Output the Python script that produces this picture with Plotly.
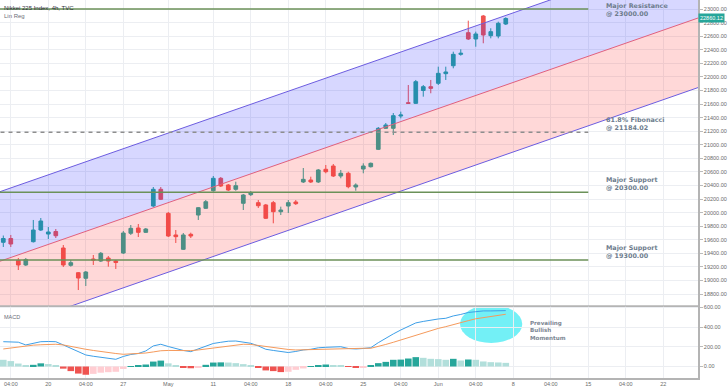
import plotly.graph_objects as go

# ---------------- data ----------------
trading_days = [
    "2020-04-15", "2020-04-16", "2020-04-17",
    "2020-04-20", "2020-04-21", "2020-04-22", "2020-04-23", "2020-04-24",
    "2020-04-27", "2020-04-28", "2020-04-30", "2020-05-01",
    "2020-05-07", "2020-05-08",
    "2020-05-11", "2020-05-12", "2020-05-13", "2020-05-14", "2020-05-15",
    "2020-05-18", "2020-05-19", "2020-05-20", "2020-05-21", "2020-05-22",
    "2020-05-25", "2020-05-26", "2020-05-27", "2020-05-28", "2020-05-29",
    "2020-06-01", "2020-06-02", "2020-06-03", "2020-06-04", "2020-06-05",
]
future_days = [
    "2020-06-08", "2020-06-09", "2020-06-10", "2020-06-11", "2020-06-12",
    "2020-06-15", "2020-06-16", "2020-06-17", "2020-06-18", "2020-06-19",
    "2020-06-22", "2020-06-23", "2020-06-24", "2020-06-25", "2020-06-26",
]
sessions = ["00:00", "04:00"]

open_ = [19562, 19618, 19297, 19228, 19571, 19743, 19684, 19721, 19478, 19223,
         19114, 19032, 19316, 19286, 19331, 19286, 19404, 19695, 19773, 19709,
         20097, 20343, 19989, 19670, 19459, 19680, 19964, 20063, 20322, 20505,
         20406, 20343, 20137, 20264, 20146, 20112, 20146, 20013, 20097, 20156,
         20451, 20480, 20451, 20638, 20686, 20539, 20579, 20377, 20642, 20676,
         20932, 21242, 21242, 21423, 21619, 21610, 21799, 21855, 21905, 22047,
         22164, 22332, 22651, 22558, 22897, 22607, 22602, 22779]
high = [19662, 19670, 19331, 19331, 19891, 19920, 19788, 19758, 19522, 19301,
        19124, 19139, 19375, 19419, 19360, 19301, 19729, 19817, 19832, 19773,
        20377, 20377, 20009, 19743, 19699, 19704, 20082, 20185, 20539, 20524,
        20421, 20455, 20274, 20318, 20185, 20127, 20171, 20087, 20185, 20185,
        20657, 20529, 20642, 20701, 20716, 20628, 20602, 20431, 20726, 20738,
        21261, 21320, 21467, 21487, 21880, 21954, 21880, 21954, 22150, 22150,
        22371, 22406, 22828, 22666, 22912, 22716, 22813, 22878]
low = [19493, 19493, 19154, 19213, 19559, 19729, 19611, 19625, 19198, 19203,
       18859, 18918, 19228, 19272, 19203, 19169, 19390, 19670, 19640, 19699,
       20082, 20185, 19640, 19552, 19449, 19625, 19891, 20053, 20308, 20377,
       20318, 20322, 20038, 20244, 20068, 19905, 19842, 19964, 19994, 20112,
       20436, 20436, 20436, 20579, 20524, 20505, 20358, 20322, 20579, 20664,
       20922, 21232, 21143, 21389, 21607, 21600, 21708, 21758, 21880, 21954,
       22126, 22312, 22543, 22444, 22495, 22568, 22568, 22764]
close = [19618, 19537, 19228, 19309, 19743, 19876, 19714, 19659, 19228, 19262,
         19036, 19124, 19301, 19400, 19286, 19264, 19699, 19768, 19709, 19758,
         20343, 20196, 19655, 19645, 19670, 19655, 20072, 20160, 20505, 20392,
         20333, 20396, 20259, 20293, 20101, 19916, 20013, 20038, 20146, 20131,
         20490, 20451, 20628, 20602, 20539, 20579, 20381, 20406, 20686, 20726,
         21242, 21291, 21428, 21438, 21610, 21929, 21855, 21831, 22052, 22072,
         22332, 22347, 22558, 22632, 22617, 22666, 22789, 22860.12]

macd_line = [252, 252, 247, 219, 234, 252, 254, 252, 219, 185,
             148, 117, 104, 94, 81, 73, 102, 122, 132, 158,
             209, 226, 203, 183, 163, 151, 178, 203, 234, 246,
             257, 259, 244, 236, 209, 175, 163, 151, 142, 153,
             168, 175, 190, 195, 198, 201, 183, 178, 183, 191,
             242, 290, 331, 371, 407, 443, 458, 473, 483, 490,
             514, 529, 549, 557, 565, 565, 567, 568]
signal_line = [178, 188, 200, 209, 217, 221, 224, 226, 219, 202,
               188, 175, 163, 151, 140, 132, 124, 127, 132, 137,
               148, 160, 163, 162, 161, 161, 168, 178, 191, 200,
               211, 219, 226, 224, 214, 200, 191, 180, 173, 168,
               170, 173, 175, 178, 182, 185, 185, 185, 185, 185,
               201, 224, 246, 270, 297, 320, 346, 369, 387, 405,
               427, 448, 466, 485, 498, 512, 522, 531]
histogram = [68, 55, 30, 12, 17, 32, 25, 15, -22, -47,
             -72, -84, -75, -63, -58, -54, -25, 3, 10, 20,
             50, 60, 32, 12, -6, -18, -8, 17, 40, 42,
             40, 34, 24, 13, -14, -40, -47, -57, -54, -34,
             -20, 4, 14, 20, 14, 7, -5, -15, -8, 6,
             34, 47, 68, 70, 81, 95, 88, 78, 75, 68,
             78, 61, 71, 68, 51, 44, 41, 37]

# linear regression channel (value of centre line at first and last bar, deviation)
linreg_start = 19300
linreg_end = 21880
linreg_dev = 1025

resistance_levels = [23000.00]
support_levels = [20300.00, 19300.00]
fib_level = 21184.02
level_end_time = "2020-06-15 00:00"
last_price = 22860.12

tick_times = ["2020-04-15 04:00", "2020-04-20 00:00", "2020-04-22 04:00", "2020-04-27 00:00",
              "2020-05-01 00:00", "2020-05-11 00:00", "2020-05-13 04:00", "2020-05-18 00:00",
              "2020-05-20 04:00", "2020-05-25 00:00", "2020-05-27 04:00", "2020-06-01 00:00",
              "2020-06-03 04:00", "2020-06-08 00:00", "2020-06-10 04:00", "2020-06-15 00:00",
              "2020-06-17 04:00", "2020-06-22 00:00"]
tick_labels = ["04:00", "20", "04:00", "27", "May", "11", "04:00", "18", "04:00", "25",
               "04:00", "Jun", "04:00", "8", "04:00", "15", "04:00", "22"]

# ---------------- build ----------------
bar_times = [f"{d} {s}" for d in trading_days for s in sessions]
future_times = [f"{d} {s}" for d in future_days for s in sessions]
axis_times = bar_times + future_times
pos = {t: i for i, t in enumerate(axis_times)}
x = [pos[t] for t in bar_times]
tickvals = [pos[t] for t in tick_times]

X_RANGE = [-0.44, 92.63]
Y_RANGE = [18623.6, 23132.6]
Y2_RANGE = [-117, 615]
SPLIT = 0.1905

UP = "#26a69a"
DOWN = "#ef5350"

slope = (linreg_end - linreg_start) / (x[-1] - x[0])
mid = [linreg_start + slope * (xx - x[0]) for xx in X_RANGE]
upper = [m + linreg_dev for m in mid]
lower = [m - linreg_dev for m in mid]

fig = go.Figure()

fig.add_trace(go.Scatter(x=X_RANGE, y=upper, mode="lines",
                         line=dict(color="#6c5ce0", width=1), hoverinfo="skip"))
fig.add_trace(go.Scatter(x=X_RANGE, y=mid, mode="lines",
                         line=dict(color="#e0607e", width=1), fill="tonexty",
                         fillcolor="rgba(40,40,255,0.19)", hoverinfo="skip"))
fig.add_trace(go.Scatter(x=X_RANGE, y=lower, mode="lines",
                         line=dict(color="#6c5ce0", width=1), fill="tonexty",
                         fillcolor="rgba(255,40,40,0.18)", hoverinfo="skip"))

fig.add_trace(go.Candlestick(
    x=x, open=open_, high=high, low=low, close=close,
    increasing=dict(line=dict(color=UP, width=1), fillcolor=UP),
    decreasing=dict(line=dict(color=DOWN, width=1), fillcolor=DOWN),
    whiskerwidth=0, xaxis="x", yaxis="y"))

# MACD histogram colours
hist_colors = []
for i, h in enumerate(histogram):
    prev = histogram[i - 1] if i > 0 else None
    if h >= 0:
        hist_colors.append("#26a69a" if (prev is not None and h > prev) else "#b2dfdb")
    else:
        hist_colors.append("#ef5350" if (prev is not None and h < prev) else "#ffcdd2")

fig.add_trace(go.Bar(x=x, y=histogram, marker=dict(color=hist_colors, line=dict(width=0)),
                     xaxis="x2", yaxis="y2"))
fig.add_trace(go.Scatter(x=x, y=macd_line, mode="lines", line=dict(color="#3d9fe8", width=1),
                         xaxis="x2", yaxis="y2"))
fig.add_trace(go.Scatter(x=x, y=signal_line, mode="lines", line=dict(color="#f59a5c", width=1),
                         xaxis="x2", yaxis="y2"))

shapes = []
level_end = pos[level_end_time]
for lv in resistance_levels + support_levels:
    shapes.append(dict(type="line", xref="x", yref="y", x0=X_RANGE[0] - 1, x1=level_end,
                       y0=lv, y1=lv, line=dict(color="#6b9159", width=1.5)))
shapes.append(dict(type="line", xref="x", yref="y", x0=X_RANGE[0] - 1, x1=level_end,
                   y0=fib_level, y1=fib_level, line=dict(color="#8e8e8e", width=1.5, dash="4px,4px")))
# panel separator
shapes.append(dict(type="line", xref="paper", yref="paper", x0=0, x1=1, y0=SPLIT, y1=SPLIT,
                   line=dict(color="#b4b4b4", width=1.5)))
# highlight ellipse in MACD panel
shapes.append(dict(type="circle", xref="x2", yref="y2", x0=60.9, x1=69.2, y0=239, y1=626,
                   fillcolor="rgba(0,228,238,0.55)", line=dict(width=0), layer="below"))

ann = []
LBL = dict(family="DejaVu Sans", size=6.4, color="#6d7c8d")
label_x = 80.1


def level_label(level, l1, l2, shift):
    ann.append(dict(x=label_x, y=level, xref="x", yref="y", text=f"<b>{l1}</b><br><b>{l2}</b>",
                    showarrow=False, xanchor="left", yanchor="middle", align="left",
                    yshift=shift, font=LBL))


level_label(resistance_levels[0], "Major Resistance", f"@ {resistance_levels[0]:.2f}", -1)
level_label(fib_level, "61.8% Fibonacci", f"@ {fib_level:.2f}", 8.5)
for lv in support_levels:
    level_label(lv, "Major Support", f"@ {lv:.2f}", 8)

PB = dict(family="DejaVu Sans", size=5.6, color="#7d8793")
ann.append(dict(x=69.9, y=366, xref="x2", yref="y2", text="<b>Prevailing</b><br><b>Bullish</b><br><b>Momentum</b>",
                showarrow=False, xanchor="left", yanchor="middle", align="left", font=PB))

ann.append(dict(x=0, y=1, xref="paper", yref="paper", xanchor="left", yanchor="top", xshift=2, yshift=-3,
                text="Nikkei 225 Index, 4h, TVC", showarrow=False,
                font=dict(family="Liberation Sans", size=6, color="#2a2e39")))
ann.append(dict(x=0, y=1, xref="paper", yref="paper", xanchor="left", yanchor="top", xshift=2, yshift=-11,
                text="Lin Reg", showarrow=False,
                font=dict(family="Liberation Sans", size=6, color="#6a6d78")))
ann.append(dict(x=0, y=SPLIT, xref="paper", yref="paper", xanchor="left", yanchor="top", xshift=2, yshift=-6,
                text="MACD", showarrow=False,
                font=dict(family="Liberation Sans", size=5.5, color="#6a6d78")))
ann.append(dict(x=1, y=last_price, xref="paper", yref="y", xanchor="left", yanchor="middle",
                text=f"{last_price:.2f}", showarrow=False, bgcolor=UP, borderpad=1,
                font=dict(family="Liberation Sans", size=5.5, color="white")))

GRID = "#eceef2"
AXL = "#b4b4b4"
TF = dict(family="Liberation Sans", size=5.5, color="#6b6b6b")

fig.update_layout(
    width=728, height=391,
    margin=dict(l=0, r=30, t=0, b=13, autoexpand=False),
    paper_bgcolor="white", plot_bgcolor="white",
    showlegend=False, bargap=0.12,
    font=dict(family="Liberation Sans"),
    shapes=shapes, annotations=ann,
    xaxis=dict(domain=[0, 1], anchor="y", range=X_RANGE, tickvals=tickvals, showticklabels=False,
               showgrid=True, gridcolor=GRID, gridwidth=1, zeroline=False, showline=True,
               linecolor=AXL, linewidth=1.5, ticks="", rangeslider=dict(visible=False),
               automargin=False),
    xaxis2=dict(domain=[0, 1], anchor="y2", matches="x", range=X_RANGE, tickvals=tickvals,
                ticktext=tick_labels, tickfont=TF, showgrid=True, gridcolor=GRID, zeroline=False,
                showline=True, linecolor=AXL, linewidth=1.5, ticks="", automargin=False),
    yaxis=dict(domain=[SPLIT, 1], anchor="x", side="right", range=Y_RANGE, tick0=0, dtick=200,
               tickformat=".2f", tickfont=TF, ticks="outside", ticklen=3, tickcolor="#bbbbbb",
               showgrid=True, gridcolor=GRID, zeroline=False, showline=True, linecolor=AXL,
               linewidth=1.5, automargin=False),
    yaxis2=dict(domain=[0, SPLIT], anchor="x2", side="right", range=Y2_RANGE, tick0=0, dtick=200,
                tickformat=".2f", tickfont=TF, ticks="outside", ticklen=3, tickcolor="#bbbbbb",
                showgrid=True, gridcolor=GRID, zeroline=False, showline=True, linecolor=AXL,
                linewidth=1.5, automargin=False),
)

fig.write_html("out.html", config={"displayModeBar": False},
               post_script="document.body.style.margin='0px';document.body.style.overflow='hidden';")
